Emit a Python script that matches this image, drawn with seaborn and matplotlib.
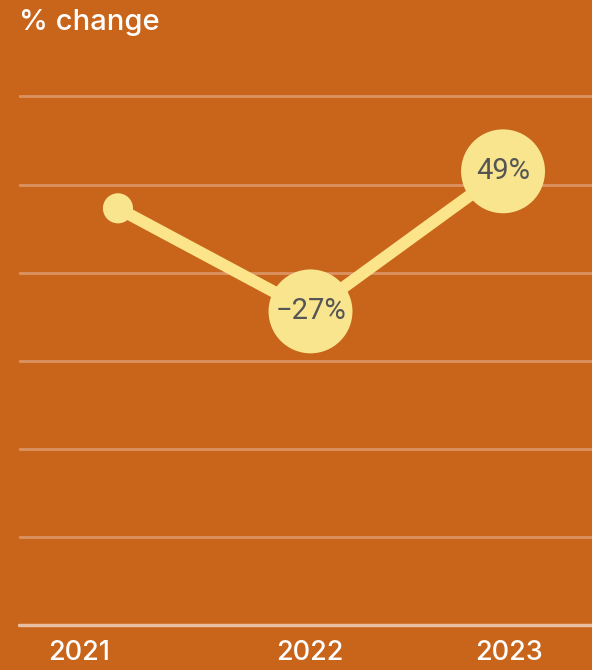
import matplotlib
matplotlib.use("Agg")
import matplotlib.pyplot as plt
import seaborn as sns
import pandas as pd

years = ["2021", "2022", "2023"]
values = [4.73, 3.56, 5.15]
change_labels = ["", "\u221227%", "49%"]
marker_sizes = [470, 3650, 3650]

BG = "#C8651B"
YELLOW = "#F9E58E"
LINE = "#FBE48A"
GRID = "#DA9262"
BASE = "#E8BFA0"
TXT = "#555555"

df = pd.DataFrame({"x": range(len(years)), "year": years, "value": values,
                   "label": change_labels, "size": marker_sizes})

sns.set_theme(style="white")
plt.rcParams["font.family"] = ["Inter", "DejaVu Sans"]

fig = plt.figure(figsize=(5.92, 6.70), dpi=100, facecolor=BG)
# axes: left px 19 -> right 592, bottom px 625, top px 70
ax = fig.add_axes([19 / 592, (670 - 625) / 670, (592 - 19) / 592, (625 - 70) / 670])
ax.set_facecolor(BG)

ax.set_xlim(-0.514, 2.462)
ax.set_ylim(0, 6.3)

for g in range(1, 7):
    ax.axhline(g, color=GRID, lw=2, zorder=0)
ax.axhline(0, color=BASE, lw=2.5, zorder=0, clip_on=False)

sns.lineplot(data=df, x="x", y="value", color=LINE, linewidth=8.6, ax=ax,
             zorder=2, solid_capstyle="round")
sns.scatterplot(data=df, x="x", y="value", size="size", sizes=(min(marker_sizes), max(marker_sizes)),
                color=YELLOW, edgecolor="none", linewidth=0, ax=ax, zorder=3, legend=False)

for _, r in df.iterrows():
    if r["label"]:
        ax.text(r["x"], r["value"], r["label"], ha="center", va="center",
                fontsize=21, color=TXT, family=["Roboto", "DejaVu Sans"], zorder=4)

for s in ax.spines.values():
    s.set_visible(False)
ax.set_yticks([])
ax.set_xticks([-0.203, 0.997, 2.03])
ax.set_xticklabels(years, fontsize=19.5, color="white", fontweight="medium")
ax.tick_params(axis="x", length=0, pad=11)
ax.set_xlabel("")
ax.set_ylabel("")

fig.text(19 / 592, 1 - 22 / 670, "% change", fontsize=21, color="white",
         ha="left", va="center", fontweight="medium")

fig.savefig("out.png", dpi=100, facecolor=BG)
